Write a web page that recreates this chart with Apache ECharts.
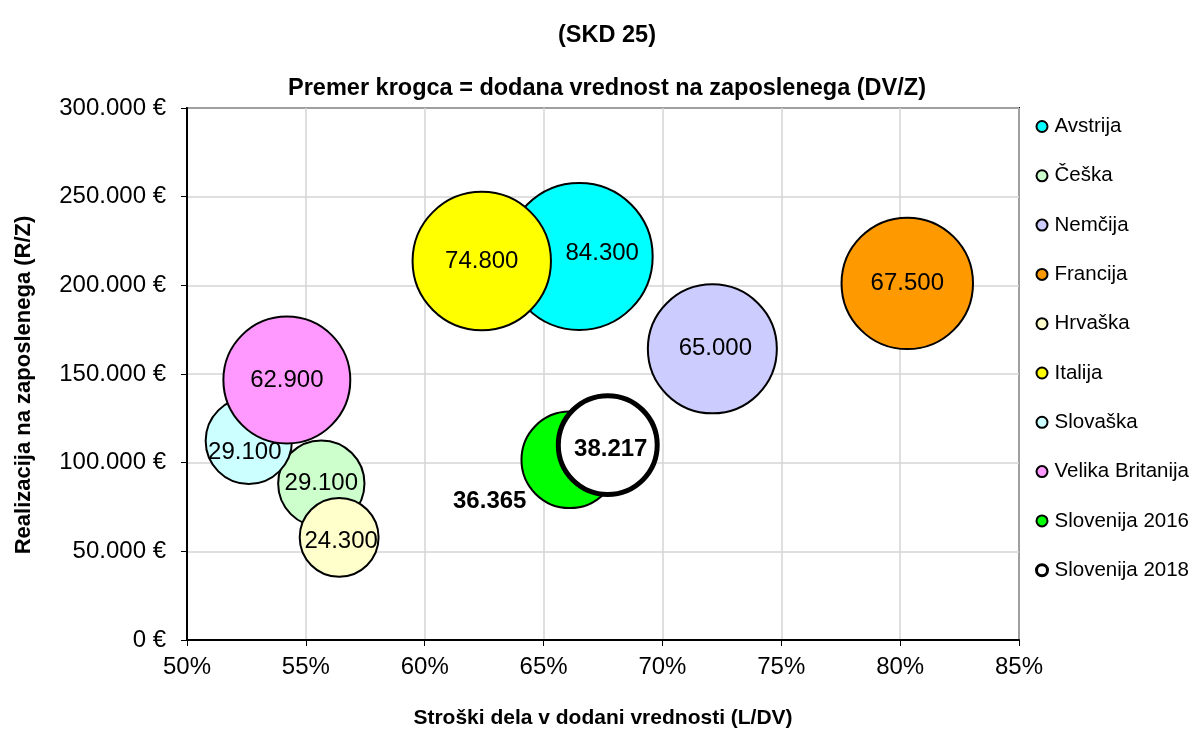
<!DOCTYPE html>
<html>
<head>
<meta charset="utf-8">
<script src="https://cdn.jsdelivr.net/npm/echarts@6/dist/echarts.min.js"></script>
<style>
  html, body { margin: 0; padding: 0; background: #fff; }
  #chart { width: 1199px; height: 729px; }
</style>
</head>
<body>
<div id="chart"></div>
<script>
// države in vrednosti, odčitane s slike
const names = ['Avstrija', 'Češka', 'Nemčija', 'Francija', 'Hrvaška', 'Italija', 'Slovaška', 'Velika Britanija', 'Slovenija 2016', 'Slovenija 2018']
const costShare = [66.5, 55.65, 72.1, 80.3, 56.4, 62.4, 52.6, 54.2, 66.1, 67.7]     // L/DV v %
const revenue = [216300, 88200, 164200, 201100, 57900, 213700, 112300, 146600, 101600, 109900] // R/Z
const valueAdded = [84300, 29100, 65000, 67500, 24300, 74800, 29100, 62900, 36365, 38217]  // DV/Z
const colors = ['#00ffff', '#ccffcc', '#ccccff', '#ff9900', '#ffffcc', '#ffff00', '#ccffff', '#ff99ff', '#00ff00', '#ffffff']
const xTicks = [50, 55, 60, 65, 70, 75, 80, 85]
const yTicks = [0, 50000, 100000, 150000, 200000, 250000, 300000]

// ročno premaknjene oznake (kot v Excelu)
const labelOffsets = {
  'Avstrija': [23, -3],
  'Slovaška': [-4, 12],
  'Hrvaška': [2, 4],
  'Nemčija': [3, 0],
  'Slovenija 2016': [-80, 42],
  'Slovenija 2018': [3, 4]
}

const FONT = 'Liberation Sans, Arial, sans-serif'
const fmt = v => String(Math.round(v)).replace(/\B(?=(\d{3})+(?!\d))/g, '.')

const chart = echarts.init(document.getElementById('chart'))

const series = names.map((name, i) => {
  const bold = name.startsWith('Slovenija')
  return {
    name,
    type: 'scatter',
    data: [[costShare[i], revenue[i], valueAdded[i]]],
    symbolSize: d => 16 * Math.sqrt(d[2] / 1000),
    itemStyle: { color: colors[i], borderColor: '#000', borderWidth: name === 'Slovenija 2018' ? 5 : 2, opacity: 1 },
    emphasis: { disabled: true },
    label: {
      show: true,
      position: 'inside',
      formatter: p => fmt(p.data[2]),
      color: '#000',
      fontFamily: FONT,
      fontSize: 24,
      fontWeight: bold ? 'bold' : 'normal',
      offset: labelOffsets[name] || [0, 0]
    }
  }
})

chart.setOption({
  animation: false,
  backgroundColor: '#fff',
  textStyle: { fontFamily: FONT },
  title: [
    { text: '(SKD 25)', left: 602, textAlign: 'center', top: 19, textStyle: { fontFamily: FONT, fontSize: 23.5, fontWeight: 'bold', color: '#000' } },
    { text: 'Premer krogca = dodana vrednost na zaposlenega (DV/Z)', left: 602, textAlign: 'center', top: 72, textStyle: { fontFamily: FONT, fontSize: 23.5, fontWeight: 'bold', color: '#000' } }
  ],
  legend: {
    orient: 'vertical',
    left: 1030,
    top: 111,
    itemWidth: 11,
    itemHeight: 11,
    itemGap: 28.3,
    icon: 'circle',
    data: names.map(n => n === 'Slovenija 2018' ? { name: n, itemStyle: { borderWidth: 3 } } : n),
    textStyle: { fontFamily: FONT, fontSize: 20.5, color: '#000', padding: [0, 0, 0, 2] }
  },
  grid: {
    left: 187, right: 180, top: 108, bottom: 89,
    outerBoundsMode: 'none',
    show: true, borderColor: '#000', borderWidth: 2, backgroundColor: '#fff'
  },
  xAxis: {
    type: 'value',
    min: xTicks[0], max: xTicks[xTicks.length - 1], interval: 5,
    name: 'Stroški dela v dodani vrednosti (L/DV)',
    nameLocation: 'middle', nameGap: 68,
    nameTextStyle: { fontFamily: FONT, fontSize: 21, fontWeight: 'bold', color: '#000' },
    axisLine: { show: true, lineStyle: { color: '#000', width: 2 } },
    axisTick: { show: true, length: 6, lineStyle: { color: '#000' } },
    axisLabel: { formatter: v => v + '%', fontFamily: FONT, fontSize: 24, color: '#000', margin: 15 },
    splitLine: { show: true, lineStyle: { color: '#d4d4d4', width: 1.5 } }
  },
  yAxis: {
    type: 'value',
    min: yTicks[0], max: yTicks[yTicks.length - 1], interval: 50000,
    name: 'Realizacija na zaposlenega (R/Z)',
    nameLocation: 'middle', nameGap: 152,
    nameTextStyle: { fontFamily: FONT, fontSize: 22, fontWeight: 'bold', color: '#000', padding: [0, 22, 0, 0] },
    axisLine: { show: true, lineStyle: { color: '#000', width: 2 } },
    axisTick: { show: true, length: 6, lineStyle: { color: '#000' } },
    axisLabel: { formatter: v => fmt(v) + ' €', fontFamily: FONT, fontSize: 24, color: '#000', margin: 21 },
    splitLine: { show: true, lineStyle: { color: '#d4d4d4', width: 1.5 } }
  },
  series
})
</script>
</body>
</html>
